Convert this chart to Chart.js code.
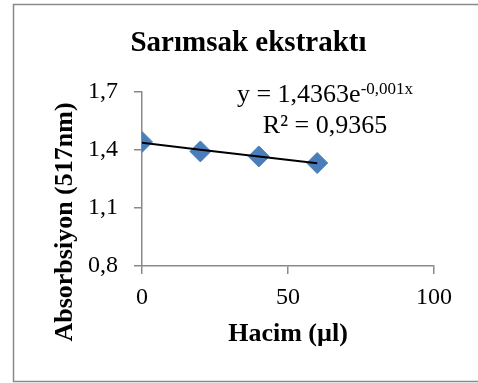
<!DOCTYPE html>
<html>
<head>
<meta charset="utf-8">
<style>
  html, body { margin: 0; padding: 0; background: #ffffff; }
  #wrap { position: relative; width: 478px; height: 383px; }
</style>
<script src="https://cdn.jsdelivr.net/npm/chart.js@4.4.1/dist/chart.umd.min.js"></script>
</head>
<body>
<div id="wrap"><canvas id="chart" width="478" height="383"></canvas></div>
<script>
// Sample volumes (µl) and measured absorbance at 517 nm
const volumes = [0, 20, 40, 60];
const absorbance = [1.441, 1.392, 1.366, 1.332];

// Axis ticks
const xTicks = [0, 50, 100];
const yTicks = [0.8, 1.1, 1.4, 1.7];

// Exponential trendline y = A·e^(B·x) and its fit quality
const trendA = 1.4363;
const trendB = -0.00127;
const rSquared = '0,9365';

const chartTitle = 'Sarımsak ekstraktı';
const xTitle = 'Hacim (µl)';
const yTitle = 'Absorbsiyon (517nm)';

const serif = '"Liberation Serif", "Times New Roman", serif';
const comma = v => String(v).replace('.', ',');

const trendPoints = volumes.map(x => ({ x: x, y: trendA * Math.exp(trendB * x) }));
const measured = volumes.map((x, i) => ({ x: x, y: absorbance[i] }));

// Outer frame, y-axis title and trendline equation
const decorations = {
  id: 'decorations',
  beforeDraw(chart) {
    const ctx = chart.ctx;
    ctx.save();
    ctx.fillStyle = '#ffffff';
    ctx.fillRect(0, 0, chart.width, chart.height);
    ctx.strokeStyle = '#8a8a8a';
    ctx.lineWidth = 1.5;
    ctx.strokeRect(13.5, 4.5, 600, 377);
    ctx.restore();
  },
  afterDraw(chart) {
    const ctx = chart.ctx;
    const area = chart.chartArea;
    ctx.save();
    ctx.fillStyle = '#000000';

    // y-axis title, rotated
    ctx.font = 'bold 26px ' + serif;
    ctx.textAlign = 'center';
    ctx.textBaseline = 'alphabetic';
    ctx.translate(72, 222);
    ctx.rotate(-Math.PI / 2);
    ctx.fillText(yTitle, 0, 0);
    ctx.setTransform(1, 0, 0, 1, 0, 0);

    // trendline equation with superscript exponent
    const main = 'y = ' + comma(trendA.toFixed(4)) + 'e';
    const sup = comma(trendB.toFixed(3)) + 'x';
    const cx = area.left + 183;
    ctx.textAlign = 'left';
    ctx.font = '26px ' + serif;
    const wMain = ctx.measureText(main).width;
    ctx.font = '17px ' + serif;
    const wSup = ctx.measureText(sup).width;
    const x0 = cx - (wMain + wSup) / 2;
    ctx.font = '26px ' + serif;
    ctx.fillText(main, x0, 102);
    ctx.font = '17px ' + serif;
    ctx.fillText(sup, x0 + wMain, 94);

    ctx.font = '26px ' + serif;
    ctx.textAlign = 'center';
    ctx.fillText('R² = ' + rSquared, cx, 133);
    ctx.restore();
  }
};

new Chart(document.getElementById('chart'), {
  type: 'scatter',
  data: {
    datasets: [
      {
        type: 'line',
        data: trendPoints,
        borderColor: '#000000',
        borderWidth: 2,
        pointRadius: 0,
        fill: false,
        tension: 0
      },
      {
        data: measured,
        pointStyle: 'rectRot',
        pointRadius: 10.5,
        pointHoverRadius: 10.5,
        backgroundColor: '#4a7ebb',
        borderColor: '#4a7ebb',
        borderWidth: 1,
        showLine: false
      }
    ]
  },
  options: {
    responsive: false,
    animation: false,
    events: [],
    layout: { padding: { left: 63, right: 44, top: 0, bottom: 0 } },
    plugins: {
      legend: { display: false },
      tooltip: { enabled: false },
      title: {
        display: true,
        text: chartTitle,
        color: '#000000',
        font: { family: serif, size: 29, weight: 'bold', lineHeight: 1.2 },
        padding: { top: 26, bottom: 31 }
      }
    },
    scales: {
      x: {
        type: 'linear',
        min: 0,
        max: 100,
        afterBuildTicks: s => { s.ticks = xTicks.map(v => ({ value: v })); },
        afterFit: s => { s.height = 117; },
        grid: { display: true, drawOnChartArea: false, drawTicks: true, tickLength: 8, color: '#898989', lineWidth: 1.5 },
        border: { display: true, color: '#898989', width: 1.5 },
        ticks: {
          color: '#000000',
          padding: 9,
          maxRotation: 0,
          font: { family: serif, size: 24 },
          callback: v => comma(v)
        },
        title: {
          display: true,
          text: xTitle,
          color: '#000000',
          font: { family: serif, size: 26, weight: 'bold', lineHeight: 1.2 },
          padding: { top: 0, bottom: 33 }
        }
      },
      y: {
        type: 'linear',
        min: 0.8,
        max: 1.7,
        afterBuildTicks: s => { s.ticks = yTicks.map(v => ({ value: v })); },
        afterFit: s => { s.width = 79; },
        grid: { display: true, drawOnChartArea: false, drawTicks: true, tickLength: 8, color: '#898989', lineWidth: 1.5 },
        border: { display: true, color: '#898989', width: 1.5 },
        ticks: {
          color: '#000000',
          padding: 16,
          font: { family: serif, size: 24 },
          callback: v => comma(v)
        }
      }
    }
  },
  plugins: [decorations]
});
</script>
</body>
</html>
